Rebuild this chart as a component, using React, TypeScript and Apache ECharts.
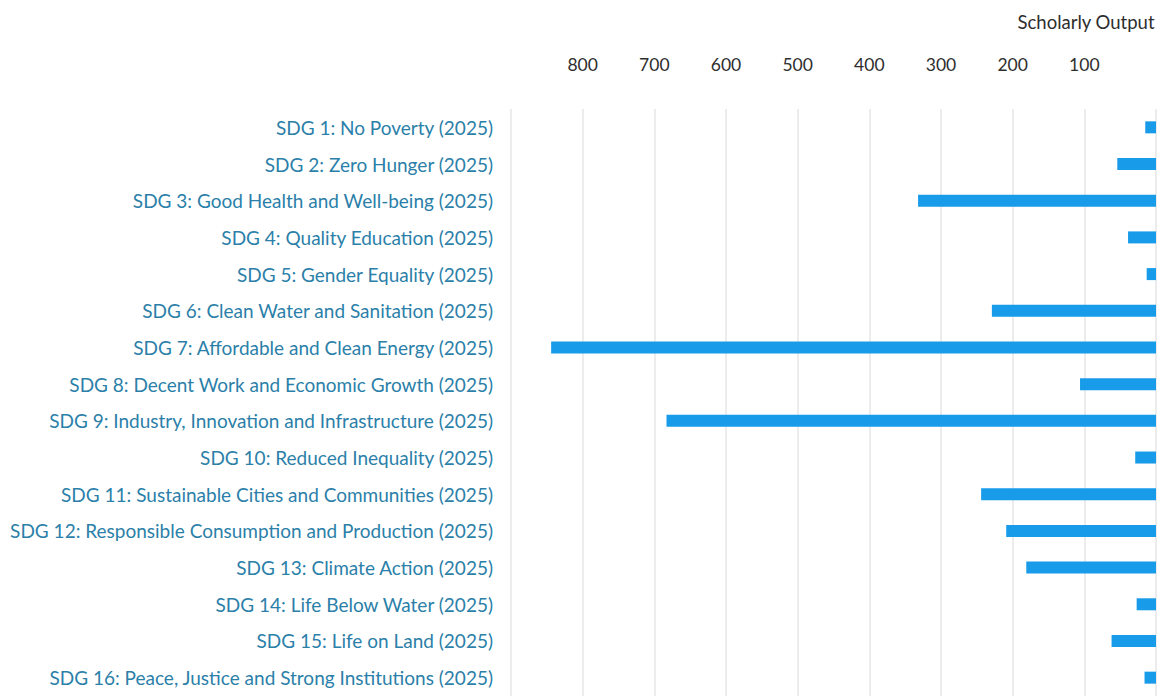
import React, { useEffect, useRef } from "react";
import * as echarts from "echarts";

const categories = [
  "SDG 1: No Poverty (2025)",
  "SDG 2: Zero Hunger (2025)",
  "SDG 3: Good Health and Well-being (2025)",
  "SDG 4: Quality Education (2025)",
  "SDG 5: Gender Equality (2025)",
  "SDG 6: Clean Water and Sanitation (2025)",
  "SDG 7: Affordable and Clean Energy (2025)",
  "SDG 8: Decent Work and Economic Growth (2025)",
  "SDG 9: Industry, Innovation and Infrastructure (2025)",
  "SDG 10: Reduced Inequality (2025)",
  "SDG 11: Sustainable Cities and Communities (2025)",
  "SDG 12: Responsible Consumption and Production (2025)",
  "SDG 13: Climate Action (2025)",
  "SDG 14: Life Below Water (2025)",
  "SDG 15: Life on Land (2025)",
  "SDG 16: Peace, Justice and Strong Institutions (2025)",
];

const scholarlyOutput = [15, 54, 332, 39, 13, 229, 844, 106, 683, 29, 244, 209, 181, 27, 62, 16];

const axisTitle = "Scholarly Output";

export default function App() {
  const ref = useRef<HTMLDivElement>(null);
  useEffect(() => {
    if (!ref.current) return;
    const chart = echarts.init(ref.current, undefined, { renderer: "svg" });
    chart.setOption({
      animation: false,
      title: {
        text: axisTitle,
        right: 3,
        top: 7,
        textStyle: {
          fontFamily: "Lato",
          fontSize: 18.5,
          fontWeight: "normal",
          color: "#2e2e2e",
        },
      },
      grid: { left: 511, right: 7, top: 109, bottom: 1 },
      xAxis: {
        type: "value",
        position: "top",
        inverse: true,
        min: 0,
        max: 900,
        interval: 100,
        axisLine: { show: false },
        axisTick: { show: false },
        axisLabel: {
          margin: 36,
          fontFamily: "Lato",
          fontSize: 17.5,
          color: "#2e2e2e",
          formatter: (v: number) => (v === 0 || v === 900 ? "" : String(v)),
        },
        splitLine: { show: true, lineStyle: { color: "#e6e6e6", width: 1.5 } },
      },
      yAxis: {
        type: "category",
        inverse: true,
        data: categories,
        axisLine: { show: false },
        axisTick: { show: false },
        axisLabel: {
          margin: 18,
          fontFamily: "Lato",
          fontSize: 19,
          color: "#2b7fa9",
        },
        splitLine: { show: false },
      },
      series: [
        {
          type: "bar",
          data: scholarlyOutput,
          barWidth: 12,
          itemStyle: { color: "#189be8" },
        },
      ],
    });
    return () => chart.dispose();
  }, []);
  return (
    <div
      ref={ref}
      style={{ position: "fixed", left: 0, top: 0, width: 1163, height: 697, background: "#fff" }}
    />
  );
}
